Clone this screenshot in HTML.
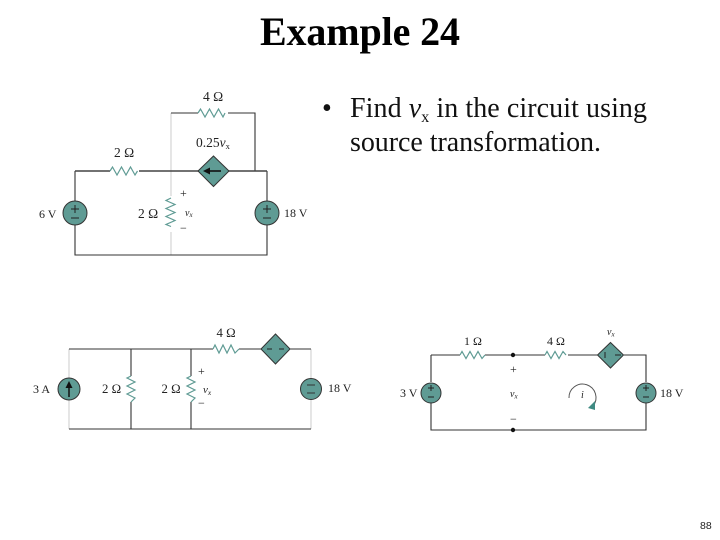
<!DOCTYPE html>
<html><head><meta charset="utf-8">
<style>
html,body{margin:0;padding:0;background:#fff;width:720px;height:540px;overflow:hidden}
svg{display:block}
text{font-family:"Liberation Serif",serif;fill:#222}
.c{filter:blur(.3px)}
.w{stroke:#333;stroke-width:1.1;fill:none}
.h{stroke:#444;stroke-width:1.5;fill:none}
.l{stroke:#d0d0d0;stroke-width:1.1;fill:none}
.r{stroke:#5f9b94;stroke-width:1.2;fill:none}
.s{fill:#5f9b94;stroke:#333;stroke-width:1}
.t{font-size:12px}
.b{font-size:13.500px}
.m{font-size:12.800px}
</style></head><body>
<svg width="720" height="540" viewBox="0 0 720 540" xmlns="http://www.w3.org/2000/svg">
<text x="260" y="45" textLength="200" lengthAdjust="spacing" style="font-size:40px;font-weight:bold;fill:#000">Example 24</text>
<text x="322" y="117" style="font-size:28px;fill:#111">•</text>
<text x="350" y="117" textLength="297" style="font-size:28px;fill:#111">Find <tspan font-style="italic">v</tspan><tspan font-size="16" dy="5">x</tspan><tspan dy="-5"> in the circuit using</tspan></text>
<text x="350" y="151" textLength="251" style="font-size:28px;fill:#111">source transformation.</text>
<text x="700" y="529" style="font-family:'Liberation Sans',sans-serif;font-size:10.500px;fill:#222">88</text>

<g class="c">
<!-- top circuit -->
<path class="l" d="M171 113V196M171 232V255"/>
<path class="w" d="M75 201V171M267 201V171M267 225V255H75V225M171 113H198M228 113H255V171"/>
<path class="h" d="M75 171H110M139 171H199M228 171H267"/>
<path class="r" d="M110 171l2.500-4 4.500 8 4.500-8 4.500 8 4.500-8 4.500 8 2.500-4M198 113l2.500-4 4.500 8 4.500-8 4.500 8 4.500-8 4.500 8 2-4M171 198l-5 2.500 9 4-9 4 9 4-9 4 9 4-9 4 5 2"/>
<path class="s" d="M213.500 156l15.500 15-15.500 15.500L198 171z"/>
<path d="M205 171h16" stroke="#111" stroke-width="1.600"/><path d="M203 171l7-3.500v7z" fill="#111"/>
<circle class="s" cx="75" cy="213" r="12"/>
<circle class="s" cx="267" cy="213" r="12"/>
<path d="M71 209h8M75 205v8M71 218h8M263 209h8M267 205v8M263 218h8" stroke="#222" stroke-width="1"/>
<text class="b" x="114" y="157">2 Ω</text>
<text class="b" x="203" y="101">4 Ω</text>
<text class="b" x="196" y="147">0.25<tspan font-style="italic">v</tspan><tspan font-size="8.500" dy="2">x</tspan></text>
<text class="t" x="39" y="218">6 V</text>
<text class="b" x="138" y="218">2 Ω</text>
<text class="t" x="284" y="217">18 V</text>
<text class="t" x="180" y="197">+</text>
<text class="t" x="180" y="232">−</text>
<text x="185" y="216" style="font-size:10px;font-style:italic">v<tspan font-size="7" dy="1">x</tspan></text>

<!-- bottom-left circuit -->
<path class="l" d="M69 349V378M69 400V429M311 349V378M311 400V429"/>
<path class="w" d="M69 349H213M239 349H261M290 349H311M69 429H311M131 349V376M131 402V429M191 349V376M191 402V429"/>
<path class="r" d="M213 349l2-4 4 8 4-8 4 8 4-8 4 8 4-4M131 376l-4 2 8 4-8 4 8 4-8 4 8 4-4 4M191 376l-4 2 8 4-8 4 8 4-8 4 8 4-4 4"/>
<path class="s" d="M275.500 334l14.500 15-14.500 15-14.500-15z"/>
<path d="M267 349h5M279 349h5" stroke="#222" stroke-width="1"/>
<circle class="s" cx="69" cy="389" r="11"/>
<path d="M69 397v-10" stroke="#111" stroke-width="1.500"/><path d="M69 381l-3.500 7h7z" fill="#111"/>
<circle class="s" cx="311" cy="389" r="10.500"/>
<path d="M307 385h8M307 393h8" stroke="#333" stroke-width="1"/>
<text class="m" x="216.500" y="337">4 Ω</text>
<text class="t" x="33" y="393">3 A</text>
<text class="m" x="102" y="393">2 Ω</text>
<text class="m" x="161.500" y="393">2 Ω</text>
<text class="t" x="328" y="392">18 V</text>
<text class="t" x="198" y="375">+</text>
<text class="t" x="198" y="407">−</text>
<text x="203" y="393" style="font-size:11px;font-style:italic">v<tspan font-size="7.500" dy="2">x</tspan></text>

<!-- bottom-right circuit -->
<path class="w" d="M431 355H460M485 355H545M568 355H598M624 355H646V382M646 403V430H431V403M431 382V355"/>
<path class="r" d="M460 355l2-3.500 4 7 4-7 4 7 4-7 4 7 3-3.500M545 355l2-3.500 4 7 4-7 4 7 4-7 3 3.500"/>
<circle cx="513" cy="355" r="2.200" fill="#111"/>
<circle cx="513" cy="430" r="2.200" fill="#111"/>
<path class="s" d="M610.500 342.500l13 12.500-13 13-13-13z"/>
<path d="M605 352v6M615 355h6" stroke="#222" stroke-width="1"/>
<circle class="s" cx="431" cy="393" r="10"/>
<circle class="s" cx="646" cy="393" r="10"/>
<path d="M428 388h6M431 385v6M428 397h6M643 388h6M646 385v6M643 397h6" stroke="#222" stroke-width="1"/>
<path d="M569 398a13.500 13.500 0 1 1 24 8" fill="none" stroke="#555" stroke-width="1"/>
<path d="M588 408l7-7 0 9z" fill="#3f8a82"/>
<text class="t" x="464" y="345">1 Ω</text>
<text class="t" x="547" y="345">4 Ω</text>
<text class="t" x="400" y="397">3 V</text>
<text class="t" x="660" y="397">18 V</text>
<text class="t" x="510" y="373">+</text>
<text class="t" x="510" y="423">−</text>
<text x="510" y="397" style="font-size:10px;font-style:italic">v<tspan font-size="7" dy="1.500">x</tspan></text>
<text x="607" y="335" style="font-size:10px;font-style:italic">v<tspan font-size="7" dy="1.500">x</tspan></text>
<text x="581" y="398" style="font-size:10px;font-style:italic">i</text>
</g>
</svg>
</body></html>
